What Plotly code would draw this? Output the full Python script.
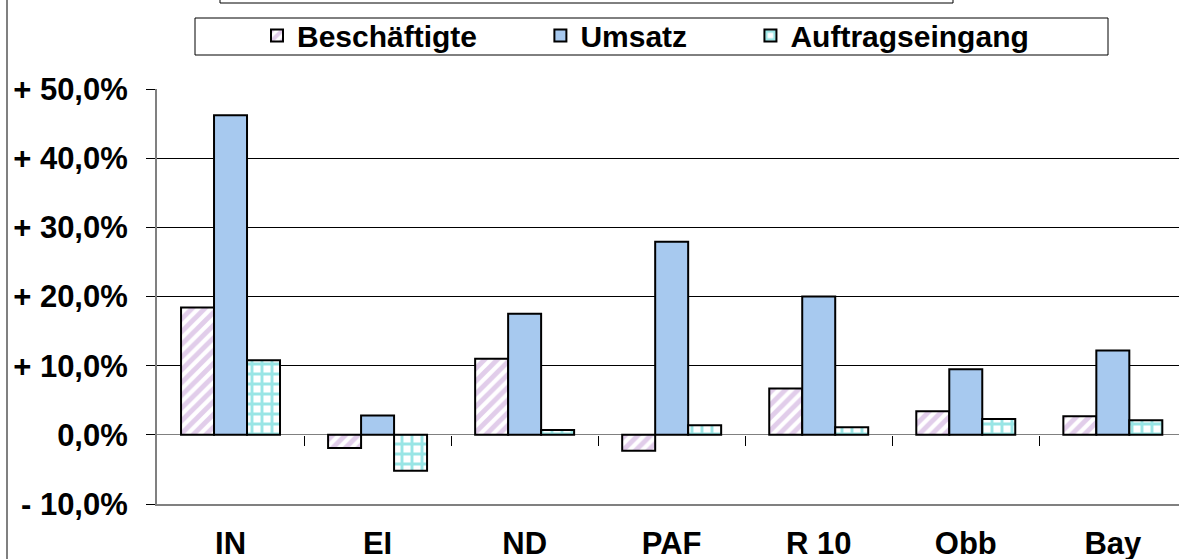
import plotly.graph_objects as go

regions = ["IN", "EI", "ND", "PAF", "R 10", "Obb", "Bay"]
beschaeftigte = [18.4, -1.9, 11.0, -2.3, 6.7, 3.4, 2.7]
umsatz = [46.2, 2.8, 17.5, 27.9, 20.0, 9.5, 12.2]
auftragseingang = [10.8, -5.2, 0.7, 1.4, 1.1, 2.3, 2.1]

y_ticks = [-10, 0, 10, 20, 30, 40, 50]
y_labels = ["- 10,0%", "0,0%", "+ 10,0%", "+ 20,0%", "+ 30,0%", "+ 40,0%", "+ 50,0%"]

W, H = 1179, 559
L, R, T, B = 157, 0, 89, 55
PW, PH = W - L - R, H - T - B

FONT = dict(family="Liberation Sans, Arial, sans-serif", size=31,
            color="black", weight="bold")
NBSP = "\u00a0"


def px_x(p):
    return (p - L) / PW


def px_y(p):
    return (H - B - p) / PH


outline = dict(color="black", width=2)

fig = go.Figure()
fig.add_trace(go.Bar(
    x=regions, y=beschaeftigte, name="Beschäftigte" + NBSP * 7,
    marker=dict(color="white", line=outline,
                pattern=dict(shape="/", fgcolor="#C49BD6", bgcolor="white",
                             size=9, solidity=0.55))))
fig.add_trace(go.Bar(
    x=regions, y=umsatz, name="Umsatz" + NBSP * 7,
    marker=dict(color="#A7C9EF", line=outline)))
fig.add_trace(go.Bar(
    x=regions, y=auftragseingang, name="Auftragseingang",
    marker=dict(color="white", line=outline,
                pattern=dict(shape="+", fgcolor="#33CCCC", bgcolor="white",
                             size=10, solidity=0.5))))

# separator ticks on the zero line, like Excel's category axis
fig.add_trace(go.Scatter(x=regions, y=[None] * len(regions), xaxis="x2",
                         showlegend=False, hoverinfo="skip"))

fig.update_layout(
    width=W, height=H,
    margin=dict(l=L, r=R, t=T, b=B, autoexpand=False),
    paper_bgcolor="white", plot_bgcolor="white",
    font=FONT,
    barmode="group", bargap=0.327, bargroupgap=0,
    showlegend=True,
    legend=dict(orientation="h", x=px_x(257), xanchor="left",
                y=px_y(35.5), yanchor="middle",
                borderwidth=0, bgcolor="rgba(0,0,0,0)",
                font=dict(size=30), itemwidth=30,
                traceorder="normal"),
    xaxis=dict(type="category", range=[-0.5, 6.45],
               showline=True, linecolor="#808080", linewidth=2,
               showgrid=False, ticks="", zeroline=False, automargin=False,
               tickfont=dict(size=31), ticklabelstandoff=11,
               fixedrange=True),
    xaxis2=dict(overlaying="x", matches="x", anchor="free", position=1 / 6,
                side="bottom", type="category",
                tickmode="array", tickvals=[0.5, 1.5, 2.5, 3.5, 4.5, 5.5],
                ticks="outside", ticklen=10, tickcolor="black", tickwidth=1,
                showticklabels=False, showline=False, showgrid=False),
    yaxis=dict(range=[-10, 50], tickmode="array", tickvals=y_ticks,
               ticktext=y_labels, tickfont=dict(size=31), automargin=False,
               showgrid=True, gridcolor="black", gridwidth=1,
               zeroline=True, zerolinecolor="#808080", zerolinewidth=1,
               showline=True, linecolor="#808080", linewidth=2,
               ticks="outside", ticklen=9, tickcolor="black",
               ticklabelstandoff=12),
    shapes=[
        # left edge of the chart area frame
        dict(type="line", xref="paper", yref="paper",
             x0=px_x(7), x1=px_x(7), y0=px_y(H + 5), y1=px_y(-5),
             line=dict(color="#808080", width=2)),
        # bottom edge of the (cut off) title box
        dict(type="rect", xref="paper", yref="paper",
             x0=px_x(220), x1=px_x(953), y0=px_y(3), y1=px_y(-40),
             line=dict(color="black", width=1), fillcolor="white"),
        # legend frame
        dict(type="rect", xref="paper", yref="paper",
             x0=px_x(195), x1=px_x(1108), y0=px_y(55), y1=px_y(18),
             line=dict(color="black", width=1), fillcolor="white"),
    ],
)

fig.write_html("out.html", config={"displayModeBar": False},
               post_script="document.body.style.margin='0';")
